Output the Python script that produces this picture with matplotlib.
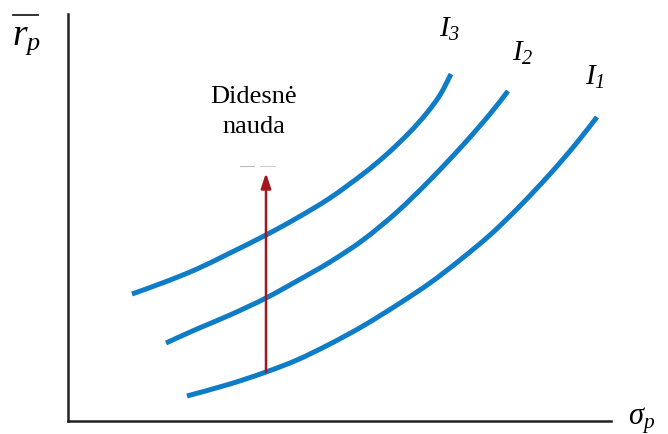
import matplotlib
matplotlib.use('Agg')
import matplotlib.pyplot as plt
from matplotlib.path import Path
from matplotlib.patches import PathPatch

plt.rcParams['mathtext.fontset'] = 'custom'
plt.rcParams['mathtext.rm'] = 'Liberation Serif:italic'
plt.rcParams['mathtext.it'] = 'Liberation Serif:italic'
plt.rcParams['font.family'] = 'Liberation Serif'

# indifference curves (risk sigma_p on x, expected return r_p on y)
i3_x = [64, 97, 129, 162, 198, 229, 262, 295, 318, 341, 358, 372, 383]
i3_y = [127, 139, 152, 168, 186, 203, 223, 247, 266, 288, 307, 326, 347]

i2_x = [98, 129, 162, 198, 229, 262, 295, 329, 362, 395, 422, 440]
i2_y = [78, 92, 106, 123, 140, 159, 181, 209, 241, 276, 307, 330]

i1_x = [119, 162, 198, 229, 262, 295, 329, 362, 392, 422, 452, 482, 507, 529]
i1_y = [25, 37, 49, 61, 77, 95, 116, 138, 161, 186, 215, 247, 276, 304]

curve_names = ['$I_3$', '$I_2$', '$I_1$']
arrow_top = 248

blue = '#0f7cc7'
red = '#a3161c'


def smooth_path(xs, ys):
    # catmull-rom through the points, written as cubic bezier segments
    pts = list(zip(xs, ys))
    verts = [pts[0]]
    codes = [Path.MOVETO]
    for k in range(len(pts) - 1):
        p0 = pts[max(k - 1, 0)]
        p1 = pts[k]
        p2 = pts[k + 1]
        p3 = pts[min(k + 2, len(pts) - 1)]
        c1 = (p1[0] + (p2[0] - p0[0]) / 6, p1[1] + (p2[1] - p0[1]) / 6)
        c2 = (p2[0] - (p3[0] - p1[0]) / 6, p2[1] - (p3[1] - p1[1]) / 6)
        verts += [c1, c2, p2]
        codes += [Path.CURVE4] * 3
    return Path(verts, codes)


fig = plt.figure(figsize=(6.68, 4.34), dpi=100)
ax = fig.add_axes([68 / 668, 13 / 434, 543 / 668, 407 / 434])
ax.set_xlim(0, 543)
ax.set_ylim(0, 407)

for s in ['top', 'right']:
    ax.spines[s].set_visible(False)
for s in ['left', 'bottom']:
    ax.spines[s].set_linewidth(1.8)
    ax.spines[s].set_color('#222222')
ax.set_xticks([])
ax.set_yticks([])

for xs, ys in [(i3_x, i3_y), (i2_x, i2_y), (i1_x, i1_y)]:
    ax.add_patch(PathPatch(smooth_path(xs, ys), facecolor='none', edgecolor=blue,
                           lw=3.6, capstyle='butt', joinstyle='round'))

# curve labels next to the upper ends
ax.text(371, 384, curve_names[0], fontsize=21, ha='left', va='baseline')
ax.text(444, 360, curve_names[1], fontsize=21, ha='left', va='baseline')
ax.text(517, 336, curve_names[2], fontsize=21, ha='left', va='baseline')

# arrow from I1 upwards
ax.annotate('', xy=(i1_x[2], arrow_top), xytext=(i1_x[2], i1_y[2]),
            arrowprops=dict(arrowstyle='-|>,head_length=0.9,head_width=0.3',
                            color=red, lw=1.8, shrinkA=0, shrinkB=0))
ax.plot([172, 186], [255, 255], color='#bbbbbb', lw=0.8)
ax.plot([192, 207], [255, 255], color='#cccccc', lw=0.8)

ax.text(186, 318, 'Didesnė', fontsize=19, ha='center', va='baseline')
ax.text(186, 288, 'nauda', fontsize=19, ha='center', va='baseline')

# axis names
ax.plot([-55, -30], [406, 406], color='#222222', lw=1.3, clip_on=False)
ax.text(-56, 376, '$r_p$', fontsize=27, ha='left', va='baseline')
ax.text(560, -3, '$\\sigma_p$', fontsize=22, ha='left', va='baseline')

fig.savefig('out.png', dpi=100)
